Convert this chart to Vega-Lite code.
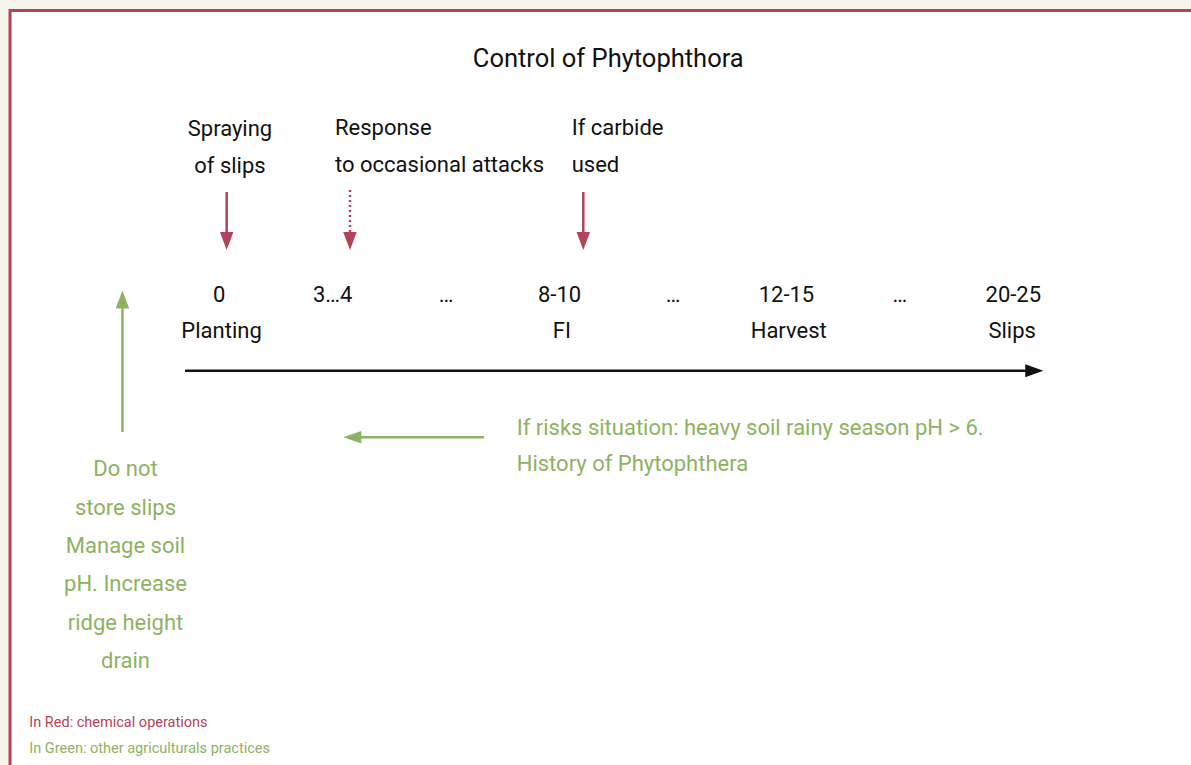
{
  "$schema": "https://vega.github.io/schema/vega-lite/v6.json",
  "width": 1191,
  "height": 765,
  "autosize": {"type": "fit", "contains": "padding"},
  "padding": 0,
  "background": "#f6f3eb",
  "config": {
    "view": {"stroke": null},
    "text": {"font": "Roboto"}
  },
  "datasets": {
    "frame": [{"x": -1.845, "x2": 12, "y": 1.05, "y2": 90}],
    "title": [{"x": 3.429, "y": 6.65, "text": "Control of Phytophthora", "group": "neutral"}],
    "centerLabels": [
      {"x": 0.094, "y": 13.6, "text": "Spraying", "group": "neutral"},
      {"x": 0.094, "y": 17.3, "text": "of slips", "group": "neutral"},
      {"x": 0, "y": 30.2, "text": "0", "group": "neutral"},
      {"x": 1, "y": 30.2, "text": "3…4", "group": "neutral"},
      {"x": 2, "y": 30.2, "text": "…", "group": "neutral"},
      {"x": 3, "y": 30.2, "text": "8-10", "group": "neutral"},
      {"x": 4, "y": 30.2, "text": "…", "group": "neutral"},
      {"x": 5, "y": 30.2, "text": "12-15", "group": "neutral"},
      {"x": 6, "y": 30.2, "text": "…", "group": "neutral"},
      {"x": 7, "y": 30.2, "text": "20-25", "group": "neutral"},
      {"x": 0.02, "y": 33.8, "text": "Planting", "group": "neutral"},
      {"x": 3.02, "y": 33.8, "text": "FI", "group": "neutral"},
      {"x": 5.02, "y": 33.8, "text": "Harvest", "group": "neutral"},
      {"x": 6.99, "y": 33.8, "text": "Slips", "group": "neutral"},
      {"x": -0.827, "y": 47.63, "text": "Do not", "group": "agri"},
      {"x": -0.827, "y": 51.47, "text": "store slips", "group": "agri"},
      {"x": -0.827, "y": 55.3, "text": "Manage soil", "group": "agri"},
      {"x": -0.827, "y": 59.13, "text": "pH. Increase", "group": "agri"},
      {"x": -0.827, "y": 62.97, "text": "ridge height", "group": "agri"},
      {"x": -0.827, "y": 66.8, "text": "drain", "group": "agri"}
    ],
    "leftLabels": [
      {"x": 1.02, "y": 13.5, "text": "Response", "group": "neutral"},
      {"x": 1.02, "y": 17.2, "text": "to occasional attacks", "group": "neutral"},
      {"x": 3.107, "y": 13.5, "text": "If carbide", "group": "neutral"},
      {"x": 3.107, "y": 17.2, "text": "used", "group": "neutral"},
      {"x": 2.622, "y": 43.47, "text": "If risks situation: heavy soil rainy season pH > 6.", "group": "agri"},
      {"x": 2.622, "y": 47.13, "text": "History of Phytophthera", "group": "agri"}
    ],
    "notes": [
      {"x": -1.675, "y": 72.7, "text": "In Red: chemical operations", "group": "chemical"},
      {"x": -1.675, "y": 75.3, "text": "In Green: other agriculturals practices", "group": "agri"}
    ],
    "shafts": [
      {"x": 0.065, "y": 19.2, "x2": 0.065, "y2": 23.6, "group": "chemical", "line": "solid"},
      {"x": 1.152, "y": 19.0, "x2": 1.152, "y2": 23.6, "group": "chemical", "line": "dotted"},
      {"x": 3.209, "y": 19.2, "x2": 3.209, "y2": 23.6, "group": "chemical", "line": "solid"},
      {"x": -0.302, "y": 37.07, "x2": 7.15, "y2": 37.07, "group": "neutral", "line": "solid"},
      {"x": -0.854, "y": 43.2, "x2": -0.854, "y2": 30.4, "group": "agri", "line": "solid"},
      {"x": 2.334, "y": 43.73, "x2": 1.197, "y2": 43.73, "group": "agri", "line": "solid"}
    ],
    "heads": [
      {"x": 0.065, "y": 24.1, "group": "chemical", "dir": "down"},
      {"x": 1.152, "y": 24.1, "group": "chemical", "dir": "down"},
      {"x": 3.209, "y": 24.1, "group": "chemical", "dir": "down"},
      {"x": 7.185, "y": 37.07, "group": "neutral", "dir": "right"},
      {"x": -0.854, "y": 29.95, "group": "agri", "dir": "up"},
      {"x": 1.1725, "y": 43.73, "group": "agri", "dir": "left"}
    ]
  },
  "encoding": {
    "x": {"field": "x", "type": "quantitative", "scale": {"domain": [-1.9334, 8.5667], "nice": false, "zero": false}, "axis": null},
    "y": {"field": "y", "type": "quantitative", "scale": {"domain": [0, 76.5], "reverse": true, "nice": false, "zero": false}, "axis": null}
  },
  "layer": [
    {
      "data": {"name": "frame"},
      "mark": {"type": "rect", "fill": "#ffffff", "stroke": "#b3435a", "strokeWidth": 3, "clip": true},
      "encoding": {
        "x2": {"field": "x2"},
        "y2": {"field": "y2"}
      }
    },
    {
      "data": {"name": "shafts"},
      "mark": {"type": "rule", "strokeWidth": 2.5},
      "encoding": {
        "x2": {"field": "x2"},
        "y2": {"field": "y2"},
        "color": {"field": "group", "type": "nominal", "scale": {"domain": ["neutral", "chemical", "agri"], "range": ["#111111", "#b3435a", "#8db262"]}, "legend": null},
        "strokeDash": {"field": "line", "type": "nominal", "scale": {"domain": ["solid", "dotted"], "range": [[1, 0], [2, 3]]}, "legend": null}
      }
    },
    {
      "data": {"name": "heads"},
      "mark": {"type": "point", "filled": true, "opacity": 1, "size": 324, "strokeWidth": 0},
      "encoding": {
        "color": {"field": "group", "type": "nominal", "legend": null},
        "shape": {"field": "dir", "type": "nominal", "scale": {"domain": ["down", "up", "right", "left"], "range": ["M-0.75,-1L0.75,-1L0,1Z", "M-0.75,1L0.75,1L0,-1Z", "M-1,-0.72L1,0L-1,0.72Z", "M1,-0.7L-1,0L1,0.7Z"]}, "legend": null}
      }
    },
    {
      "data": {"name": "title"},
      "mark": {"type": "text", "fontSize": 25.5, "align": "center", "baseline": "alphabetic"},
      "encoding": {
        "text": {"field": "text"},
        "color": {"field": "group", "type": "nominal", "legend": null}
      }
    },
    {
      "data": {"name": "centerLabels"},
      "mark": {"type": "text", "fontSize": 22, "align": "center", "baseline": "alphabetic"},
      "encoding": {
        "text": {"field": "text"},
        "color": {"field": "group", "type": "nominal", "legend": null}
      }
    },
    {
      "data": {"name": "leftLabels"},
      "mark": {"type": "text", "fontSize": 22, "align": "left", "baseline": "alphabetic"},
      "encoding": {
        "text": {"field": "text"},
        "color": {"field": "group", "type": "nominal", "legend": null}
      }
    },
    {
      "data": {"name": "notes"},
      "mark": {"type": "text", "fontSize": 14.5, "align": "left", "baseline": "alphabetic"},
      "encoding": {
        "text": {"field": "text"},
        "color": {"field": "group", "type": "nominal", "legend": null}
      }
    }
  ]
}
